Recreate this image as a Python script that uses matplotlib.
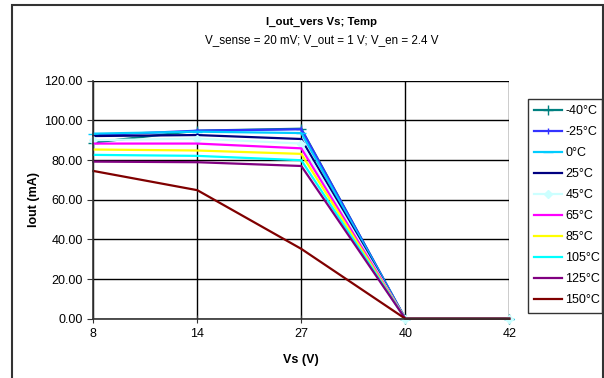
import matplotlib
matplotlib.use('Agg')
import matplotlib.pyplot as plt
from matplotlib.patches import Rectangle

plt.rcParams['font.family'] = ['Liberation Sans', 'DejaVu Sans']

vs_labels = ['8', '14', '27', '40', '42']
temps = ['-40°C', '-25°C', '0°C', '25°C', '45°C', '65°C', '85°C', '105°C', '125°C', '150°C']

i_m40 = [88.8, 94.8, 95.8, 0, 0]
i_m25 = [92.5, 94.8, 95.5, 0, 0]
i_0 = [93.3, 94.3, 93.6, 0, 0]
i_25 = [92.1, 92.6, 90.6, 0, 0]
i_45 = [90.0, 90.8, 88.3, 0, 0]
i_65 = [88.3, 88.3, 85.9, 0, 0]
i_85 = [85.3, 84.8, 83.1, 0, 0]
i_105 = [82.6, 82.1, 79.9, 0, 0]
i_125 = [79.2, 78.9, 77.0, 0, 0]
i_150 = [74.5, 64.8, 35.2, 0, 0]

series = [i_m40, i_m25, i_0, i_25, i_45, i_65, i_85, i_105, i_125, i_150]
colors = ['#008080', '#3333FF', '#00CCFF', '#000080', '#CCFFFF',
          '#FF00FF', '#FFFF00', '#00FFFF', '#800080', '#800000']
markers = ['+', '|', '_', None, 'D', None, None, None, None, None]
msizes = [7, 4, 7, 0, 4, 0, 0, 0, 0, 0]

fig = plt.figure(figsize=(6.04, 3.78), dpi=100)
# outer chart border
fig.patches.append(Rectangle((12 / 604, -0.05), 591 / 604, 1.05 - 5 / 378,
                             transform=fig.transFigure, fill=False,
                             edgecolor='#333333', linewidth=1.5))

ax = fig.add_axes([93.3 / 604, 1 - 318.7 / 378, (509.3 - 93.3) / 604, (318.7 - 80.7) / 378])
x = list(range(len(vs_labels)))
for vals, lab, c, m, ms in zip(series, temps, colors, markers, msizes):
    ax.plot(x, vals, color=c, linewidth=1.6, marker=m, markersize=ms,
            markeredgecolor=c, markerfacecolor=c, label=lab, clip_on=False)

ax.set_xlim(0, 4)
ax.set_ylim(0, 120)
ax.set_xticks(x)
ax.set_xticklabels(vs_labels)
ax.set_yticks(range(0, 121, 20))
ax.set_yticklabels([f'{v:.2f}' for v in range(0, 121, 20)])
ax.grid(True, color='black', linewidth=1)
ax.set_axisbelow(True)
for s in ['top', 'right']:
    ax.spines[s].set_visible(False)
ax.spines['left'].set_color('#333333')
ax.spines['bottom'].set_color('#333333')
ax.spines['left'].set_linewidth(1.2)
ax.spines['bottom'].set_linewidth(1.2)
ax.tick_params(axis='both', labelsize=9, length=4, colors='#333333', labelcolor='black')
ax.tick_params(axis='x', direction='inout', length=6)

ax.set_xlabel('Vs (V)', fontsize=9, fontweight='bold', labelpad=10)
ax.set_ylabel('Iout (mA)', fontsize=9, fontweight='bold', labelpad=3)

fig.text(322 / 604, 1 - 22 / 378, 'I_out_vers Vs; Temp', ha='center', va='center',
         fontsize=8.2, fontweight='bold')
fig.text(322 / 604, 1 - 40 / 378, 'V_sense = 20 mV; V_out = 1 V; V_en = 2.4 V',
         ha='center', va='center', fontsize=8.4)

leg = ax.legend(loc='upper left',
                bbox_to_anchor=(528 / 604, 1 - 302 / 378, 74 / 604, (302 - 99) / 378),
                bbox_transform=fig.transFigure, mode='expand', fontsize=9, frameon=True,
                fancybox=False, edgecolor='black', borderaxespad=0, handlelength=2.2,
                handletextpad=0.3, labelspacing=0.72, borderpad=0.5)
leg.get_frame().set_linewidth(1)

fig.savefig('out.png', dpi=100)
